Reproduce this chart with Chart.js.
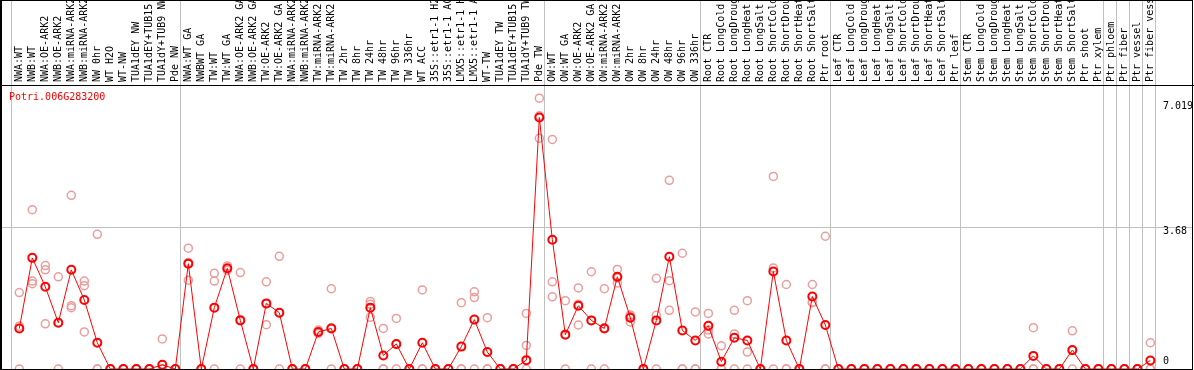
<!DOCTYPE html>
<html>
<head>
<meta charset="utf-8">
<script src="https://cdn.jsdelivr.net/npm/chart.js@4.4.1/dist/chart.umd.min.js"></script>
<style>
  body { margin: 0; background: #fff; }
  #wrap { width: 1194px; height: 370px; }
</style>
</head>
<body>
<div id="wrap"><canvas id="myChart"></canvas></div>
<script>
var geneName = 'Potri.006G283200';

var labels = [
    'NWA:WT', 'NWB:WT', 'NWA:OE-ARK2', 'NWB:OE-ARK2', 'NWA:miRNA-ARK2', 'NWB:miRNA-ARK2',
    'NW 0hr', 'WT H2O', 'WT-NW', 'TUA1dEY NW', 'TUA1dEY+TUB15', 'TUA1dY+TUB9 NW', 'Pde NW',
    'NWA:WT GA', 'NWBWT GA', 'TW:WT', 'TW:WT GA', 'NWA:OE-ARK2 GA', 'NWB:OE-ARK2 GA',
    'TW:OE-ARK2', 'TW:OE-ARK2 GA', 'NWA:miRNA-ARK2', 'NWB:miRNA-ARK2', 'TW:miRNA-ARK2',
    'TW:miRNA-ARK2', 'TW 2hr', 'TW 8hr', 'TW 24hr', 'TW 48hr', 'TW 96hr', 'TW 336hr',
    'WT ACC', '35S::etr1-1 H2', '35S::etr1-1 AC', 'LMX5::etr1-1 H', 'LMX5::etr1-1 A',
    'WT-TW', 'TUA1dEY TW', 'TUA1dEY+TUB15', 'TUA1dY+TUB9 TW', 'Pde TW',
    'OW:WT', 'OW:WT GA', 'OW:OE-ARK2', 'OW:OE-ARK2 GA', 'OW:miRNA-ARK2', 'OW:miRNA-ARK2',
    'OW 2hr', 'OW 8hr', 'OW 24hr', 'OW 48hr', 'OW 96hr', 'OW 336hr',
    'Root CTR', 'Root LongCold', 'Root LongDroug', 'Root LongHeat', 'Root LongSalt',
    'Root ShortCold', 'Root ShortDrou', 'Root ShortHeat', 'Root ShortSalt', 'Ptr root',
    'Leaf CTR', 'Leaf LongCold', 'Leaf LongDroug', 'Leaf LongHeat', 'Leaf LongSalt',
    'Leaf ShortCold', 'Leaf ShortDrou', 'Leaf ShortHeat', 'Leaf ShortSalt', 'Ptr leaf',
    'Stem CTR', 'Stem LongCold', 'Stem LongDroug', 'Stem LongHeat', 'Stem LongSalt',
    'Stem ShortCold', 'Stem ShortDrou', 'Stem ShortHeat', 'Stem ShortSalt', 'Ptr shoot',
    'Ptr xylem', 'Ptr phloem', 'Ptr fiber', 'Ptr vessel', 'Ptr fiber vess'
];

// mean expression per sample
var means = [
    1.05, 2.88, 2.13, 1.20, 2.57, 1.79, 0.68, 0, 0, 0,
    0, 0.11, 0, 2.73, 0, 1.59, 2.61, 1.26, 0, 1.70,
    1.46, 0, 0, 0.96, 1.05, 0, 0, 1.59, 0.35, 0.65,
    0, 0.68, 0, 0, 0.58, 1.28, 0.44, 0, 0, 0.23,
    6.52, 3.35, 0.89, 1.64, 1.26, 1.05, 2.39, 1.33, 0, 1.26,
    2.91, 1.00, 0.74, 1.12, 0.19, 0.81, 0.74, 0, 2.53, 0.74,
    0, 1.88, 1.14, 0, 0, 0, 0, 0, 0, 0,
    0, 0, 0, 0, 0, 0, 0, 0, 0.34, 0,
    0, 0.49, 0, 0, 0, 0, 0, 0.22
];

// replicates
var rep1 = [
    1.98, 4.13, 2.68, 2.39, 4.50, 2.28, 3.49, 0, 0, 0,
    0, 0.78, 0, 3.13, 0, 2.48, 2.67, 2.50, 0, 2.26,
    2.92, 0, 0, 1.01, 2.08, 0, 0, 1.75, 1.05, 1.31,
    0, 2.05, 0, 0, 1.72, 2.00, 1.33, 0, 0, 1.44,
    7.019, 5.95, 1.77, 2.10, 2.52, 2.08, 2.58, 1.40, 0, 2.35,
    4.89, 3.00, 1.48, 1.44, 0.60, 1.52, 1.77, 0, 4.99, 2.19,
    0, 2.19, 3.44, 0, 0, 0, 0, 0, 0, 0,
    0, 0, 0, 0, 0, 0, 0, 0, 1.07, 0,
    0, 0.99, 0, 0, 0, 0, 0, 0.68
];
var rep2 = [
    1.11, 2.28, 2.57, 1.20, 1.64, 2.16, 0, 0, 0, 0,
    0, 0, 0, 2.30, 0, 2.28, 2.60, 1.28, 0, 1.15,
    1.46, 0, 0, 0.92, 1.07, 0, 0, 1.34, 0, 0.64,
    0, 0, 0, 0, 0, 1.85, 0, 0, 0, 0.61,
    5.98, 2.26, 0.90, 1.14, 1.26, 1.07, 2.23, 1.22, 0, 1.39,
    2.29, 0, 0, 0.91, 0, 0.91, 0.44, 0, 2.62, 0,
    0, 1.72, 0, 0, 0, 0, 0, 0, 0, 0,
    0, 0, 0, 0, 0, 0, 0, 0, 0, 0,
    0, 0.48, 0, 0, 0, 0, 0, 0
];
var rep3 = [
    0, 2.21, 1.17, 0, 1.59, 0.96, 0, 0, 0, 0,
    0, 0, 0, 2.76, 0, 0, 2.56, 0, 0, 1.69,
    0, 0, 0, 0.96, 0, 0, 0, 1.68, 0, 0,
    0, 0, 0, 0, 0, 0, 0, 0, 0, 0,
    6.56, 1.87, 0, 1.68, 0, 0, 2.36, 1.37, 0, 0,
    1.52, 0, 0, 1.01, 0, 0, 0, 0, 0, 0,
    0, 1.73, 0, 0, 0, 0, 0, 0, 0, 0,
    0, 0, 0, 0, 0, 0, 0, 0, 0, 0,
    0, 0, 0, 0, 0, 0, 0, 0
];

// sample index after which a group separator is drawn
var groupEnds = [-1, 12, 40, 52, 62, 72, 83, 84, 85, 86, 87];
var yTicks = [0, 3.68, 7.019];
var yMax = 7.36;

var monoFont = "'DejaVu Sans Mono', monospace";

var meanPoints = means.map(function (v, i) { return { x: i, y: v }; });
var repPoints = [];
for (var i = 0; i < labels.length; i++) {
    [rep1, rep2, rep3].forEach(function (r) { repPoints.push({ x: i, y: r[i] }); });
}

function noPadding(scale) {
    scale.paddingTop = 0;
    scale.paddingBottom = 0;
    scale.paddingLeft = 0;
    scale.paddingRight = 0;
}

//frame + gene name
var framePlugin = {
    id: 'frame',
    afterDraw: function (chart) {
        var c = chart.ctx;
        var a = chart.chartArea;
        c.save();
        c.strokeStyle = '#000';
        c.lineWidth = 1;
        c.beginPath();
        c.moveTo(0, 0.5); c.lineTo(1193, 0.5);
        c.moveTo(1192.5, 0); c.lineTo(1192.5, 370);
        c.moveTo(0, a.bottom + 0.5); c.lineTo(1193, a.bottom + 0.5);
        c.stroke();
        c.lineWidth = 2;
        c.beginPath();
        c.moveTo(1, 0); c.lineTo(1, 370);
        c.stroke();
        c.fillStyle = '#ff0000';
        c.font = '10px ' + monoFont;
        c.textBaseline = 'top';
        c.fillText(geneName, 9, 92);
        c.restore();
    }
};

var ctx = document.getElementById('myChart').getContext('2d');
var myChart = new Chart(ctx, {
    type: 'line',
    data: {
        datasets: [{
            label: 'mean',
            data: meanPoints,
            borderColor: '#ff0000',
            borderWidth: 1,
            pointStyle: 'circle',
            pointRadius: 4,
            pointBorderWidth: 2,
            pointBorderColor: '#ff0000',
            pointBackgroundColor: 'rgba(0,0,0,0)',
            tension: 0
        }, {
            label: 'replicates',
            data: repPoints,
            showLine: false,
            pointStyle: 'circle',
            pointRadius: 4,
            pointBorderWidth: 1.5,
            pointBorderColor: '#eb9c9c',
            pointBackgroundColor: 'rgba(0,0,0,0)'
        }]
    },
    options: {
        responsive: true,
        maintainAspectRatio: false,
        animation: false,
        events: [],
        layout: { autoPadding: false, padding: { left: 1, right: 1, top: 0, bottom: 1 } },
        plugins: {
            legend: { display: false },
            tooltip: { enabled: false }
        },
        scales: {
            x: {
                type: 'linear',
                position: 'top',
                min: -1.408,
                max: 90.28,
                afterBuildTicks: function (scale) {
                    var t = [];
                    for (var i = 0; i < labels.length; i++) t.push({ value: i });
                    groupEnds.forEach(function (g) { t.push({ value: g + 5 / 13 }); });
                    t.sort(function (a, b) { return a.value - b.value; });
                    scale.ticks = t;
                },
                afterFit: function (scale) {
                    scale.height = 85;
                    noPadding(scale);
                },
                grid: {
                    drawTicks: true,
                    tickLength: 85,
                    lineWidth: 1,
                    color: function (c) {
                        return c.tick && !Number.isInteger(c.tick.value) ? '#c0c0c0' : 'rgba(0,0,0,0)';
                    }
                },
                border: { display: true, color: '#000', width: 1 },
                ticks: {
                    autoSkip: false,
                    minRotation: 90,
                    maxRotation: 90,
                    padding: -82,
                    labelOffset: 12,
                    color: '#000',
                    font: { family: monoFont, size: 10 },
                    callback: function (v) {
                        return Number.isInteger(v) ? labels[v] : '';
                    }
                }
            },
            y: {
                position: 'right',
                min: 0,
                max: yMax,
                afterBuildTicks: function (scale) {
                    scale.ticks = yTicks.map(function (v) { return { value: v }; });
                },
                afterFit: function (scale) {
                    scale.width = 0;
                    noPadding(scale);
                },
                grid: {
                    drawTicks: false,
                    color: function (c) {
                        return c.tick && c.tick.value === 3.68 ? '#c0c0c0' : 'rgba(0,0,0,0)';
                    }
                },
                border: { display: false },
                ticks: {
                    mirror: true,
                    crossAlign: 'far',
                    padding: 0,
                    color: '#000',
                    font: { family: monoFont, size: 10, lineHeight: 0.8 },
                    callback: function (v) {
                        if (v === 0) return ['0', '', ''];
                        if (v === 3.68) return ['', '3.68'];
                        return ['', '', String(v)];
                    }
                }
            }
        }
    },
    plugins: [framePlugin]
});
</script>
</body>
</html>
